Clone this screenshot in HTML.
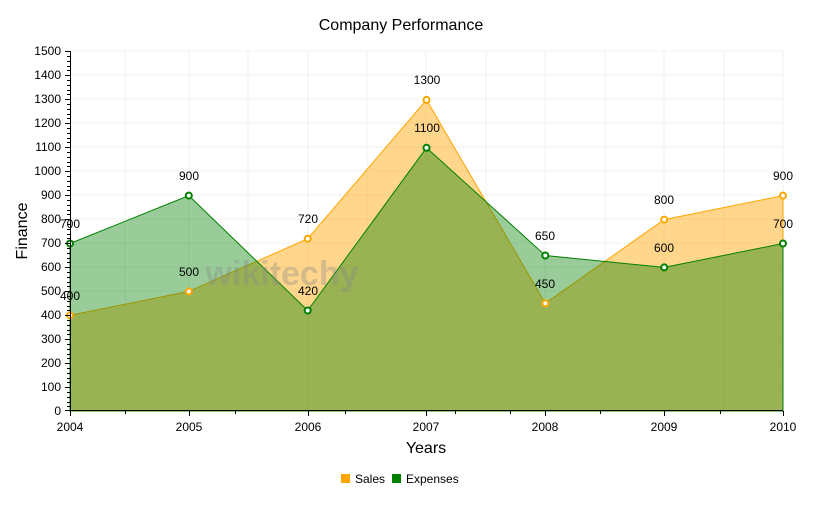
<!DOCTYPE html>
<html><head><style>body{margin:0;background:#fff}svg{display:block;font-family:"Liberation Sans",sans-serif}</style></head>
<body>
<svg width="833" height="515" viewBox="0 0 833 515">
<text x="401" y="30" font-size="16" text-anchor="middle">Company Performance</text>
<g stroke="#f0f0f0" stroke-width="1">
<line x1="70" y1="51" x2="783" y2="51"/><line x1="70" y1="75" x2="783" y2="75"/><line x1="70" y1="99" x2="783" y2="99"/><line x1="70" y1="123" x2="783" y2="123"/><line x1="70" y1="147" x2="783" y2="147"/><line x1="70" y1="171" x2="783" y2="171"/><line x1="70" y1="195" x2="783" y2="195"/><line x1="70" y1="219" x2="783" y2="219"/><line x1="70" y1="243" x2="783" y2="243"/><line x1="70" y1="267" x2="783" y2="267"/><line x1="70" y1="291" x2="783" y2="291"/><line x1="70" y1="315" x2="783" y2="315"/><line x1="70" y1="339" x2="783" y2="339"/><line x1="70" y1="363" x2="783" y2="363"/><line x1="70" y1="387" x2="783" y2="387"/>
<line x1="125" y1="51" x2="125" y2="411"/><line x1="189" y1="51" x2="189" y2="411"/><line x1="248" y1="51" x2="248" y2="411"/><line x1="308" y1="51" x2="308" y2="411"/><line x1="367" y1="51" x2="367" y2="411"/><line x1="426" y1="51" x2="426" y2="411"/><line x1="486" y1="51" x2="486" y2="411"/><line x1="545" y1="51" x2="545" y2="411"/><line x1="605" y1="51" x2="605" y2="411"/><line x1="664" y1="51" x2="664" y2="411"/><line x1="724" y1="51" x2="724" y2="411"/><line x1="783" y1="51" x2="783" y2="411"/>
</g>
<polygon points="70,411 70,315.3 188.8,291.4 307.7,238.7 426.5,99.9 545.3,303.3 664.2,219.6 783,195.6 783,411" fill="#ffa500" fill-opacity="0.45" stroke="#ffa500" stroke-width="1"/>
<polygon points="70,411 70,243.5 188.8,195.6 307.7,310.5 426.5,147.8 545.3,255.5 664.2,267.4 783,243.5 783,411" fill="#008000" fill-opacity="0.4" stroke="#008000" stroke-width="1"/>
<text x="282" y="285" font-size="34" font-weight="bold" fill="#888" fill-opacity="0.35" text-anchor="middle">wikitechy</text>
<g fill="#fff" stroke="#ffa500" stroke-width="2">
<circle cx="70" cy="315.3" r="3"/><circle cx="188.8" cy="291.4" r="3"/><circle cx="307.7" cy="238.7" r="3"/><circle cx="426.5" cy="99.9" r="3"/><circle cx="545.3" cy="303.3" r="3"/><circle cx="664.2" cy="219.6" r="3"/><circle cx="783" cy="195.6" r="3"/></g>
<g fill="#fff" stroke="#008000" stroke-width="2">
<circle cx="70" cy="243.5" r="3"/><circle cx="188.8" cy="195.6" r="3"/><circle cx="307.7" cy="310.5" r="3"/><circle cx="426.5" cy="147.8" r="3"/><circle cx="545.3" cy="255.5" r="3"/><circle cx="664.2" cy="267.4" r="3"/><circle cx="783" cy="243.5" r="3"/></g>
<g font-size="12" text-anchor="middle">
<text x="70" y="300">400</text><text x="189" y="276">500</text><text x="308" y="223">720</text><text x="427" y="84">1300</text><text x="545" y="288">450</text><text x="664" y="204">800</text><text x="783" y="180">900</text>
<text x="70" y="228">700</text><text x="189" y="180">900</text><text x="308" y="295">420</text><text x="427" y="132">1100</text><text x="545" y="240">650</text><text x="664" y="252">600</text><text x="783" y="228">700</text>
</g>
<g stroke="#000" stroke-width="1">
<line x1="70.5" y1="51" x2="70.5" y2="411"/><line x1="70" y1="410.5" x2="783" y2="410.5"/>
<path d="M65 51.5h5M65 75.5h5M65 99.5h5M65 123.5h5M65 147.5h5M65 171.5h5M65 195.5h5M65 219.5h5M65 243.5h5M65 267.5h5M65 291.5h5M65 315.5h5M65 339.5h5M65 363.5h5M65 387.5h5M65 410.5h5"/>
<path d="M67 56.5h3M67 61.5h3M67 66.5h3M67 70.5h3M67 80.5h3M67 85.5h3M67 90.5h3M67 94.5h3M67 104.5h3M67 109.5h3M67 114.5h3M67 118.5h3M67 128.5h3M67 133.5h3M67 138.5h3M67 142.5h3M67 152.5h3M67 157.5h3M67 162.5h3M67 166.5h3M67 176.5h3M67 181.5h3M67 186.5h3M67 190.5h3M67 200.5h3M67 205.5h3M67 210.5h3M67 214.5h3M67 224.5h3M67 229.5h3M67 234.5h3M67 238.5h3M67 248.5h3M67 253.5h3M67 258.5h3M67 262.5h3M67 272.5h3M67 277.5h3M67 282.5h3M67 286.5h3M67 296.5h3M67 301.5h3M67 306.5h3M67 310.5h3M67 320.5h3M67 325.5h3M67 330.5h3M67 334.5h3M67 344.5h3M67 349.5h3M67 354.5h3M67 358.5h3M67 368.5h3M67 373.5h3M67 378.5h3M67 382.5h3M67 392.5h3M67 397.5h3M67 402.5h3M67 406.5h3"/>
<path d="M70.5 411v5M189.5 411v5M308.5 411v5M426.5 411v5M545.5 411v5M664.5 411v5M783.5 411v5M125.5 411v3M235.5 411v3M345.5 411v3M455.5 411v3M510.5 411v3M600.5 411v3M720.5 411v3"/>
</g>
<g font-size="12" text-anchor="end">
<text x="61" y="55">1500</text><text x="61" y="79">1400</text><text x="61" y="103">1300</text><text x="61" y="127">1200</text><text x="61" y="151">1100</text><text x="61" y="175">1000</text><text x="61" y="199">900</text><text x="61" y="223">800</text><text x="61" y="247">700</text><text x="61" y="271">600</text><text x="61" y="295">500</text><text x="61" y="319">400</text><text x="61" y="343">300</text><text x="61" y="367">200</text><text x="61" y="391">100</text><text x="61" y="415">0</text>
</g>
<g font-size="12" text-anchor="middle">
<text x="70" y="431">2004</text><text x="189" y="431">2005</text><text x="308" y="431">2006</text><text x="426" y="431">2007</text><text x="545" y="431">2008</text><text x="664" y="431">2009</text><text x="783" y="431">2010</text>
</g>
<text x="426" y="453" font-size="16" text-anchor="middle">Years</text>
<text transform="translate(27,231) rotate(-90)" font-size="16" text-anchor="middle">Finance</text>
<rect x="341" y="474" width="9" height="9" fill="#ffa500"/>
<text x="355" y="483" font-size="12">Sales</text>
<rect x="392" y="474" width="9" height="9" fill="#008000"/>
<text x="406" y="483" font-size="12">Expenses</text>
</svg>
</body></html>
